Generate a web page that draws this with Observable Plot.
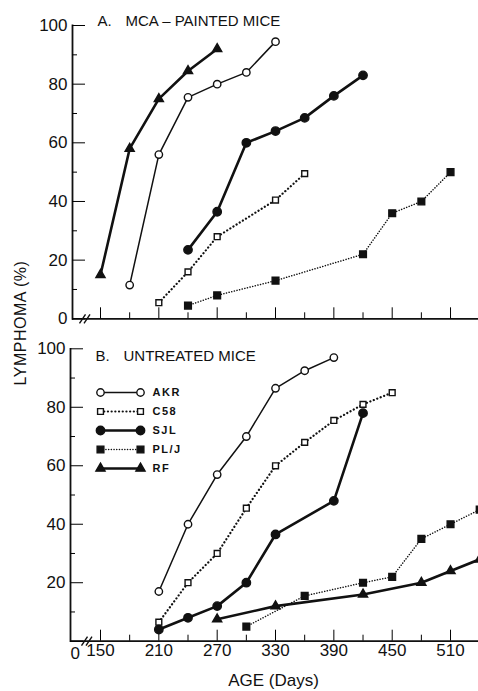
<!DOCTYPE html>
<html><head><meta charset="utf-8">
<script src="https://cdn.jsdelivr.net/npm/d3@7"></script>
<script src="https://cdn.jsdelivr.net/npm/@observablehq/plot@0.6"></script>
<style>
body{margin:0;background:#fff;}
#wrap{position:relative;width:478px;height:691px;overflow:hidden;font-family:"Liberation Sans",Arial,sans-serif;background:#fff;}
#wrap svg{position:absolute;}
#ylab{position:absolute;left:21px;top:323px;transform:translate(-50%,-50%) rotate(-90deg);font-size:16px;white-space:nowrap;color:#111;letter-spacing:0.5px;}
</style></head>
<body><div id="wrap"><div id="ylab">LYMPHOMA (%)</div></div>
<script>
// ---- Data ----
const strains = ["AKR", "C58", "SJL", "PL/J", "RF"];

// A. MCA-painted mice
const A_AKR_days = [180, 210, 240, 270, 300, 330];
const A_AKR_pct  = [11.5, 56, 75.5, 80, 84, 94.5];
const A_C58_days = [210, 240, 270, 330, 360];
const A_C58_pct  = [5.5, 16, 28, 40.5, 49.5];
const A_SJL_days = [240, 270, 300, 330, 360, 390, 420];
const A_SJL_pct  = [23.5, 36.5, 60, 64, 68.5, 76, 83];
const A_PLJ_days = [240, 270, 330, 420, 450, 480, 510];
const A_PLJ_pct  = [4.5, 8, 13, 22, 36, 40, 50];
const A_RF_days  = [150, 180, 210, 240, 270];
const A_RF_pct   = [15, 58, 75, 84.5, 92];

// B. Untreated mice
const B_AKR_days = [210, 240, 270, 300, 330, 360, 390];
const B_AKR_pct  = [17, 40, 57, 70, 86.5, 92.5, 97];
const B_C58_days = [210, 240, 270, 300, 330, 360, 390, 420, 450];
const B_C58_pct  = [6.5, 20, 30, 45.5, 60, 68, 75.5, 81, 85];
const B_SJL_days = [210, 240, 270, 300, 330, 390, 420];
const B_SJL_pct  = [4, 8, 12, 20, 36.5, 48, 78];
const B_PLJ_days = [300, 360, 420, 450, 480, 510, 540];
const B_PLJ_pct  = [5, 15.5, 20, 22, 35, 40, 45];
const B_RF_days  = [270, 330, 420, 480, 510, 540];
const B_RF_pct   = [7.5, 12, 16, 20, 24, 28];

const yMajor = [0, 20, 40, 60, 80, 100];
const yMinor = [10, 30, 50, 70, 90];
const xMajor = [150, 210, 270, 330, 390, 450, 510];
const xMinor = [180, 240, 300, 360, 420, 480, 540];
const xLabels = [150, 210, 270, 330, 390, 450, 510];

// ---- Styles ----
const INK = "#111";
const FONT = "'Liberation Sans', Arial, sans-serif";
const style = {
  AKR:   {sw: 1.5, dash: null, sym: "circle", r: 3.7, fill: "white"},
  C58:   {sw: 2.2, dash: "0.1,3.6", sym: "square", r: 3.3, fill: "white"},
  SJL:   {sw: 2.6, dash: null, sym: "circle", r: 4.2, fill: INK},
  "PL/J":{sw: 1.5, dash: "0.1,2.6", sym: "square", r: 3.8, fill: INK},
  RF:    {sw: 2.6, dash: null, sym: "triangle", r: 3.4, fill: INK}
};

// slanted stroke used as the axis-break symbol
const slash = {draw(context) { context.moveTo(-3, 4.5); context.lineTo(3, -4.5); }};

function rows(strain, days, pct) { return days.map((d, i) => ({strain, day: d, pct: pct[i]})); }
const dataA = [
  ...rows("AKR", A_AKR_days, A_AKR_pct), ...rows("C58", A_C58_days, A_C58_pct),
  ...rows("SJL", A_SJL_days, A_SJL_pct), ...rows("PL/J", A_PLJ_days, A_PLJ_pct),
  ...rows("RF", A_RF_days, A_RF_pct)
];
const dataB = [
  ...rows("AKR", B_AKR_days, B_AKR_pct), ...rows("C58", B_C58_days, B_C58_pct),
  ...rows("SJL", B_SJL_days, B_SJL_pct), ...rows("PL/J", B_PLJ_days, B_PLJ_pct),
  ...rows("RF", B_RF_days, B_RF_pct)
];

function seriesMarks(data) {
  const lines = strains.map(s => Plot.line(data.filter(d => d.strain === s), {
    x: "day", y: "pct", stroke: INK, strokeWidth: style[s].sw,
    strokeDasharray: style[s].dash, strokeLinecap: "round", strokeLinejoin: "round"
  }));
  const dots = strains.map(s => Plot.dot(data.filter(d => d.strain === s), {
    x: "day", y: "pct", symbol: style[s].sym, r: style[s].r,
    fill: style[s].fill, stroke: INK, strokeWidth: 1.4
  }));
  return [...lines, ...dots];
}

// inward ticks: axis ticks shifted by their own length so they point into the plot
function axisTicks(breakDx) {
  return [
    Plot.axisY({ticks: yMajor, tickSize: 13, dx: 13, text: null, stroke: "black"}),
    Plot.axisY({ticks: yMinor, tickSize: 5, dx: 5, text: null, stroke: "black"}),
    Plot.axisX({ticks: xMajor, tickSize: 11, dy: -11, text: null, stroke: "black"}),
    Plot.axisX({ticks: xMinor, tickSize: 6, dy: -6, text: null, stroke: "black"}),
    Plot.dot([0], {frameAnchor: "bottom-left", dx: breakDx, symbol: slash, fill: "none", stroke: INK, strokeWidth: 1.4}),
    Plot.dot([0], {frameAnchor: "bottom-left", dx: breakDx + 4.5, symbol: slash, fill: "none", stroke: INK, strokeWidth: 1.4})
  ];
}

function panel({data, height, marginTop, marginBottom, marginLeft, yLabelTicks, letter, title, titleDy, withXLabels, breakDx}) {
  return Plot.plot({
    width: 478, height, marginTop, marginBottom, marginLeft, marginRight: 0,
    x: {domain: [150, 540], range: [100, 479.2], label: null},
    y: {domain: [0, 100], label: null},
    style: {fontFamily: FONT, fontSize: "17px", color: INK, background: "transparent", overflow: "hidden"},
    marks: [
      Plot.frame({anchor: "left", stroke: INK, strokeWidth: 1.8}),
      Plot.ruleY([0], {stroke: INK, strokeWidth: 1.8}),
      ...axisTicks(breakDx),
      Plot.axisY({ticks: yLabelTicks, tickSize: 0, tickPadding: 5, fontSize: 17, fill: INK}),
      withXLabels ? Plot.axisX({ticks: xLabels, tickSize: 0, tickPadding: 3, fontSize: 17, fill: INK}) : null,
      withXLabels ? Plot.text(["0"], {frameAnchor: "bottom-left", dy: 12, lineAnchor: "middle", fontSize: 17, fill: INK}) : null,
      withXLabels ? Plot.text(["AGE (Days)"], {frameAnchor: "bottom", dy: 39, lineAnchor: "middle", fontSize: 17, fill: INK, dx: -1}) : null,
      Plot.text([letter], {frameAnchor: "top-left", dx: 25, dy: titleDy, lineAnchor: "middle", textAnchor: "start", fontSize: 15, fill: INK}),
      Plot.text([title], {frameAnchor: "top-left", dx: 53, dy: titleDy, lineAnchor: "middle", textAnchor: "start", fontSize: 15, fill: INK}),
      ...seriesMarks(data)
    ]
  });
}

const wrap = document.getElementById("wrap");

const svgA = panel({data: dataA, height: 330, marginTop: 25, marginBottom: 11.7, marginLeft: 72,
  yLabelTicks: yMajor, letter: "A.", title: "MCA \u2013 PAINTED MICE", titleDy: -4, withXLabels: false, breakDx: 10});
svgA.style.left = "0px"; svgA.style.top = "0px";
wrap.appendChild(svgA);

const svgB = panel({data: dataB, height: 361, marginTop: 18.3, marginBottom: 50.3, marginLeft: 70,
  yLabelTicks: [20, 40, 60, 80, 100], letter: "B.", title: "UNTREATED MICE", titleDy: 7, withXLabels: true, breakDx: 14});
svgB.style.left = "0px"; svgB.style.top = "330px";
wrap.appendChild(svgB);

// Legend (inside panel B)
const legendRows = strains.flatMap(s => [{strain: s, end: 0}, {strain: s, end: 1}]);
const legend = Plot.plot({
  width: 130, height: 130, margin: 0,
  x: {domain: [0, 1], range: [10, 50]},
  y: {type: "point", domain: strains, range: [16.7, 112.7]},
  axis: null,
  style: {fontFamily: FONT, background: "transparent", overflow: "visible"},
  marks: [
    ...strains.map(s => Plot.line(legendRows.filter(d => d.strain === s), {
      x: "end", y: "strain", stroke: INK, strokeWidth: style[s].sw,
      strokeDasharray: style[s].dash, strokeLinecap: "round"
    })),
    ...strains.map(s => Plot.dot(legendRows.filter(d => d.strain === s), {
      x: "end", y: "strain", symbol: style[s].sym, r: style[s].r,
      fill: style[s].fill, stroke: INK, strokeWidth: 1.4
    })),
    Plot.text(strains, {x: () => 1, y: d => d, dx: 12, textAnchor: "start", fontSize: 11, fontWeight: "bold", fill: INK})
  ]
});
legend.style.left = "90px"; legend.style.top = "365px";
legend.querySelectorAll("text").forEach(t => t.setAttribute("letter-spacing", "1.5"));
wrap.appendChild(legend);
</script>
</body></html>
